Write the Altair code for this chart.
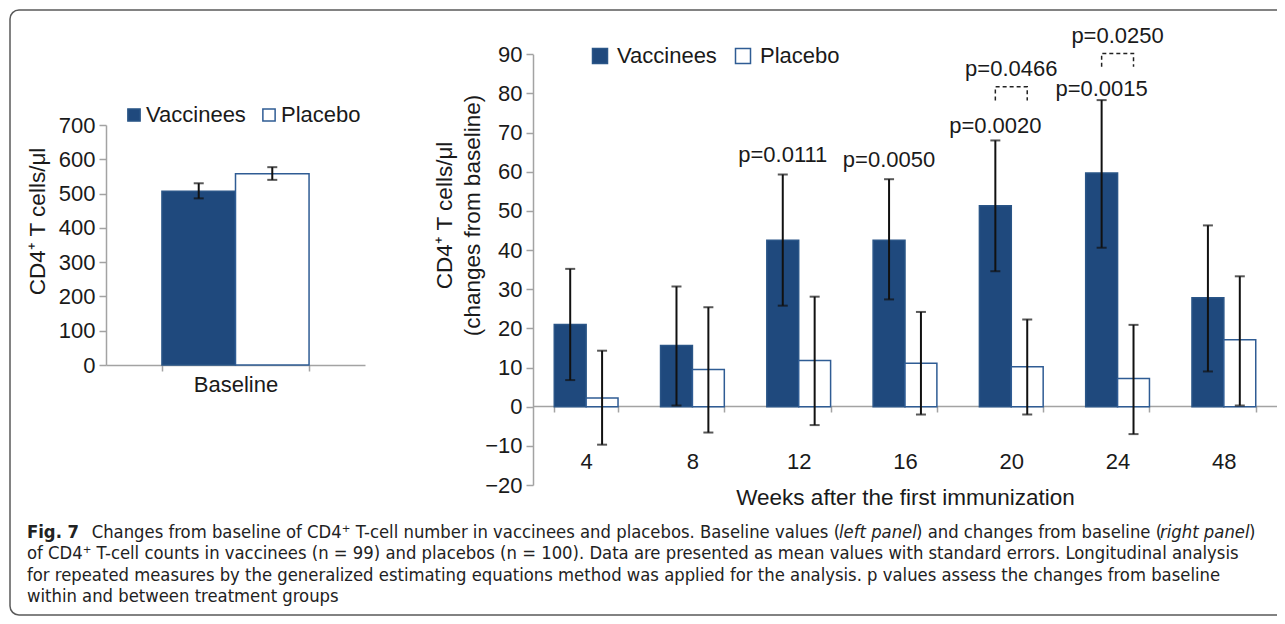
import altair as alt
import pandas as pd

# ---------------- data ----------------
groups = ["Vaccinees", "Placebo"]

base_cat = ["Baseline", "Baseline"]
base_mean = [507, 558]
base_low = [486, 540]
base_high = [530, 577]

weeks = ["4", "8", "12", "16", "20", "24", "48"]
vacc_mean = [21.0, 15.6, 42.5, 42.5, 51.3, 59.7, 27.8]
vacc_low = [6.8, 0.3, 25.8, 27.4, 34.6, 40.6, 9.0]
vacc_high = [35.2, 30.7, 59.3, 58.1, 68.0, 78.3, 46.3]
plac_mean = [2.2, 9.5, 11.8, 11.1, 10.2, 7.2, 17.1]
plac_low = [-9.7, -6.6, -4.7, -2.0, -2.0, -7.0, 0.3]
plac_high = [14.3, 25.4, 28.1, 24.2, 22.3, 20.9, 33.3]

p_within_weeks = ["12", "16", "20", "24"]
p_within_labels = ["p=0.0111", "p=0.0050", "p=0.0020", "p=0.0015"]
p_within_y = [64.2, 63.1, 71.6, 81.1]

p_between_weeks = ["20", "24"]
p_between_labels = ["p=0.0466", "p=0.0250"]
p_between_y = [86.2, 94.6]
bracket_low = [78.2, 86.8]
bracket_high = [81.7, 90.2]

caption_l1 = ["Fig. 7",
              "Changes from baseline of CD4\u207a T-cell number in vaccinees and placebos. Baseline values (",
              "left panel",
              ") and changes from baseline (",
              "right panel",
              ")"]
caption_l2 = "of CD4\u207a T-cell counts in vaccinees (n = 99) and placebos (n = 100). Data are presented as mean values with standard errors. Longitudinal analysis"
caption_l3 = "for repeated measures by the generalized estimating equations method was applied for the analysis. p values assess the changes from baseline"
caption_l4 = "within and between treatment groups"

# ---------------- tables ----------------
base_df = pd.DataFrame({"cat": base_cat, "group": groups, "mean": base_mean,
                        "low": base_low, "high": base_high})
right_df = pd.DataFrame({
    "week": weeks + weeks,
    "group": [groups[0]] * len(weeks) + [groups[1]] * len(weeks),
    "mean": vacc_mean + plac_mean,
    "low": vacc_low + plac_low,
    "high": vacc_high + plac_high,
})
pw_df = pd.DataFrame({"week": p_within_weeks, "group": [groups[0]] * len(p_within_weeks),
                      "y": p_within_y, "label": p_within_labels})
pb_df = pd.DataFrame({"week": p_between_weeks, "y": p_between_y, "label": p_between_labels})
br_rows = []
for w, lo, hi in zip(p_between_weeks, bracket_low, bracket_high):
    br_rows += [
        {"week": w, "group": groups[0], "v": lo, "o": 0},
        {"week": w, "group": groups[0], "v": hi, "o": 1},
        {"week": w, "group": groups[1], "v": hi, "o": 2},
        {"week": w, "group": groups[1], "v": lo, "o": 3},
    ]
br_df = pd.DataFrame(br_rows)
dummy = pd.DataFrame({"k": [0]})

# ---------------- styles ----------------
FONT = "Liberation Sans, Arial, Helvetica, sans-serif"
CAP_FONT = "DejaVu Sans Condensed, Liberation Sans, sans-serif"
CAP_SIZE = 18.3
NAVY = "#1F497D"
OUTLINE = "#2F5C94"
AX = "#a3a3a3"
TXT = "#1a1a1a"
W, H = 1269, 608

fill_scale = alt.Scale(domain=groups, range=[NAVY, "#ffffff"])
stroke_scale = alt.Scale(domain=groups, range=["#2A5587", OUTLINE])
off_scale = alt.Scale(domain=groups, paddingInner=0, paddingOuter=0)

# ---------------- left panel ----------------
xL_scale = alt.Scale(range=[98, 357], paddingInner=0.432, paddingOuter=0.216)
xL_axis = alt.Axis(title=None, orient="bottom", offset=-(H - 357), labelAngle=0,
                   labelPadding=3, tickBand="extent", tickSize=6)
yL_scale = alt.Scale(domain=[0, 700], range=[357, 117], nice=False, zero=True)
yL_axis = alt.Axis(orient="left", offset=-98, values=list(range(0, 701, 100)),
                   title="CD4\u207a T cells/\u03bcl", titleX=-69, titleY=213, titleAngle=270,
                   titleAlign="center", titleBaseline="middle", tickSize=7, labelPadding=4)
legL = alt.Legend(title=None, orient="none", legendX=115, legendY=96, direction="horizontal",
                  symbolType="square", symbolSize=150, symbolStrokeWidth=1.5,
                  labelOffset=1, columnPadding=12, padding=0)

xL = alt.X("cat:N", scale=xL_scale, axis=xL_axis)
offL = alt.XOffset("group:N", sort=groups, scale=off_scale)

left_bars = alt.Chart(base_df).mark_bar(strokeWidth=1.5).encode(
    x=xL, xOffset=offL,
    y=alt.Y("mean:Q", scale=yL_scale, axis=yL_axis),
    fill=alt.Fill("group:N", scale=fill_scale, legend=legL, sort=groups),
    stroke=alt.Stroke("group:N", scale=stroke_scale, legend=legL, sort=groups),
)
left_err = alt.Chart(base_df).mark_rule(color="#111111", strokeWidth=2).encode(
    x=xL, xOffset=offL,
    y=alt.Y("low:Q", scale=yL_scale, axis=yL_axis), y2="high:Q")
left_cap_lo = alt.Chart(base_df).mark_tick(color="#111111", thickness=2, size=10).encode(
    x=xL, xOffset=offL, y=alt.Y("low:Q", scale=yL_scale, axis=yL_axis))
left_cap_hi = alt.Chart(base_df).mark_tick(color="#111111", thickness=2, size=10).encode(
    x=xL, xOffset=offL, y=alt.Y("high:Q", scale=yL_scale, axis=yL_axis))
left_layer = alt.layer(left_bars, left_err, left_cap_lo, left_cap_hi)

# ---------------- right panel ----------------
xR_scale = alt.Scale(domain=weeks, range=[525, 1269], paddingInner=0.4, paddingOuter=0.2)
xR_axis = alt.Axis(orient="bottom", offset=-(H - 398), labelAngle=0, labelPadding=39,
                   tickBand="extent", tickSize=6,
                   title="Weeks after the first immunization", titleX=897, titleY=91,
                   titleAlign="center", titleBaseline="middle")
yR_scale = alt.Scale(domain=[-20, 90], range=[477, 46.3], nice=False, zero=False)
yR_axis = alt.Axis(orient="left", offset=-525, values=list(range(-20, 91, 10)),
                   title=["CD4\u207a T cells/\u03bcl", "(changes from baseline)"],
                   titleX=-89, titleY=207, titleAngle=270, titleAlign="center",
                   titleBaseline="middle", titleLineHeight=28, tickSize=7, labelPadding=4)
legR = alt.Legend(title=None, orient="none", legendX=581, legendY=37, direction="horizontal",
                  symbolType="square", symbolSize=225, symbolStrokeWidth=1.5,
                  labelOffset=6, columnPadding=15, padding=0)

xR = alt.X("week:N", sort=weeks, scale=xR_scale, axis=xR_axis)
offR = alt.XOffset("group:N", sort=groups, scale=off_scale)

right_bars = alt.Chart(right_df).mark_bar(strokeWidth=1.5).encode(
    x=xR, xOffset=offR,
    y=alt.Y("mean:Q", scale=yR_scale, axis=yR_axis),
    fill=alt.Fill("group:N", scale=fill_scale, legend=legR, sort=groups),
    stroke=alt.Stroke("group:N", scale=stroke_scale, legend=legR, sort=groups),
)
right_err = alt.Chart(right_df).mark_rule(color="#111111", strokeWidth=2).encode(
    x=xR, xOffset=offR,
    y=alt.Y("low:Q", scale=yR_scale, axis=yR_axis), y2="high:Q")
right_cap_lo = alt.Chart(right_df).mark_tick(color="#111111", thickness=2, size=10).encode(
    x=xR, xOffset=offR, y=alt.Y("low:Q", scale=yR_scale, axis=yR_axis))
right_cap_hi = alt.Chart(right_df).mark_tick(color="#111111", thickness=2, size=10).encode(
    x=xR, xOffset=offR, y=alt.Y("high:Q", scale=yR_scale, axis=yR_axis))
p_within = alt.Chart(pw_df).mark_text(font=FONT, fontSize=22, color=TXT, baseline="middle").encode(
    x=xR, xOffset=offR, y=alt.Y("y:Q", scale=yR_scale, axis=yR_axis), text="label:N")
p_between = alt.Chart(pb_df).mark_text(font=FONT, fontSize=22, color=TXT, baseline="middle").encode(
    x=xR, y=alt.Y("y:Q", scale=yR_scale, axis=yR_axis), text="label:N")
brackets = alt.Chart(br_df).mark_line(color="#222222", strokeWidth=1.5, strokeDash=[4, 3]).encode(
    x=xR, xOffset=offR, y=alt.Y("v:Q", scale=yR_scale, axis=yR_axis),
    detail="week:N", order="o:Q")
right_layer = alt.layer(right_bars, right_err, right_cap_lo, right_cap_hi,
                        p_within, p_between, brackets)

# ---------------- frame & caption ----------------
frame = alt.Chart(dummy).mark_rect(filled=False, stroke="#5a5a5a", strokeWidth=1.5,
                                   cornerRadius=9).encode(
    x=alt.value(2), x2=alt.value(W + 40), y=alt.value(2), y2=alt.value(H - 1))


def cap_text(txt, x, y, weight="normal", style="normal"):
    return alt.Chart(dummy).mark_text(font=CAP_FONT, fontSize=CAP_SIZE, color="#222222",
                                      align="left", baseline="alphabetic",
                                      fontWeight=weight, fontStyle=style).encode(
        x=alt.value(x), y=alt.value(y), text=alt.value(txt))


cap_y = [529.7, 551, 573, 593.7]
seg_x = [19, 83.7, 831, 908, 1152, 1241]
styles = [("bold", "normal"), ("normal", "normal"), ("normal", "italic"),
          ("normal", "normal"), ("normal", "italic"), ("normal", "normal")]
caption = [cap_text(t, x, cap_y[0], weight=s[0], style=s[1])
           for t, x, s in zip(caption_l1, seg_x, styles)]
caption += [
    cap_text(caption_l2, 19, cap_y[1]),
    cap_text(caption_l3, 19, cap_y[2]),
    cap_text(caption_l4, 19, cap_y[3]),
]

chart = alt.layer(frame, left_layer, right_layer, *caption).resolve_scale(
    x="independent", y="independent", xOffset="independent",
    fill="independent", stroke="independent"
).resolve_axis(x="independent", y="independent").resolve_legend(
    fill="independent", stroke="independent"
).properties(
    width=W, height=H, padding=0, autosize=alt.AutoSizeParams(type="none")
).configure_view(strokeWidth=0).configure_axis(
    grid=False, labelFont=FONT, labelFontSize=22, labelColor=TXT,
    titleFont=FONT, titleFontSize=22.5, titleColor=TXT, titleFontWeight="normal",
    domainColor=AX, tickColor=AX, domainWidth=1.5, tickWidth=1.5
).configure_legend(labelFont=FONT, labelFontSize=22, labelColor=TXT)

chart.save("out.html", embed_options={"renderer": "svg", "actions": False})
